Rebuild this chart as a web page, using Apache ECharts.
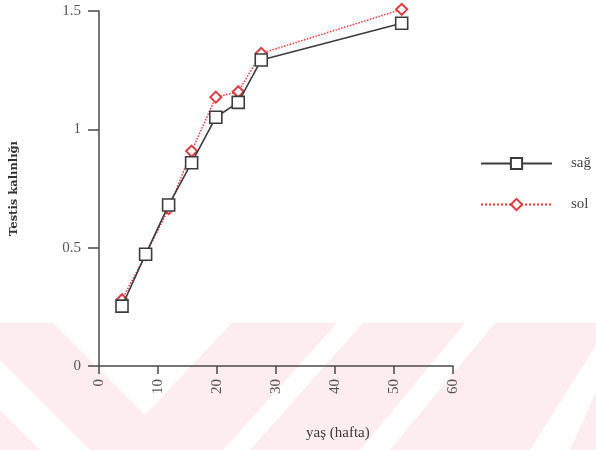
<!DOCTYPE html>
<html>
<head>
<meta charset="utf-8">
<script src="https://cdn.jsdelivr.net/npm/echarts@6/dist/echarts.min.js"></script>
<style>
html,body{margin:0;padding:0;background:#fff;}
#chart{width:596px;height:450px;}
</style>
</head>
<body>
<div id="chart"></div>
<script>
// Data
var ages = [3.9, 7.9, 11.8, 15.7, 19.8, 23.6, 27.5, 51.3];
var sagValues = [0.253, 0.472, 0.68, 0.859, 1.051, 1.114, 1.293, 1.448];
var solValues = [0.28, 0.47, 0.665, 0.908, 1.136, 1.159, 1.321, 1.507];
var seriesNames = ['sağ', 'sol'];
var xTicks = [0, 10, 20, 30, 40, 50, 60];
var yTicks = [0, 0.5, 1, 1.5];
var xAxisTitle = 'yaş (hafta)';
var yAxisTitle = 'Testis kalınlığı';

function pairs(xs, ys) { return xs.map(function (x, i) { return [x, ys[i]]; }); }

var serif = '"Liberation Serif", "DejaVu Serif", serif';
var axisColor = '#4a4a4a';
var pink = '#fdedf0';

var chart = echarts.init(document.getElementById('chart'));
chart.setOption({
  backgroundColor: '#ffffff',
  animation: false,
  graphic: [
    { type: 'rect', silent: true, z: -10, shape: { x: 0, y: 323, width: 596, height: 127 }, style: { fill: pink } },
    { type: 'polygon', silent: true, z: -9, shape: { points: [[53,323],[232,323],[145,415]] }, style: { fill: '#fff' } },
    { type: 'polygon', silent: true, z: -9, shape: { points: [[0,360],[90,450],[40,450],[0,410]] }, style: { fill: '#fff' } },
    { type: 'polygon', silent: true, z: -9, shape: { points: [[337,323],[363,323],[250,450],[223,450]] }, style: { fill: '#fff' } },
    { type: 'polygon', silent: true, z: -9, shape: { points: [[465,323],[495,323],[390,450],[360,450]] }, style: { fill: '#fff' } },
    { type: 'polygon', silent: true, z: -9, shape: { points: [[596,345],[596,392],[570,450],[530,450]] }, style: { fill: '#fff' } },
    { type: 'text', left: 306, top: 426, style: { text: xAxisTitle, font: '15px ' + serif, fill: '#3a3a3a' } }
  ],
  grid: { left: 97, top: 11, width: 356, height: 355, containLabel: false },
  legend: {
    orient: 'vertical',
    left: 480,
    top: 156,
    padding: 0,
    itemWidth: 71,
    itemHeight: 14,
    itemGap: 26,
    textStyle: { fontFamily: serif, fontSize: 15, color: '#444', padding: [0, 0, 0, 14] },
    data: seriesNames
  },
  xAxis: {
    type: 'value',
    min: xTicks[0],
    max: xTicks[xTicks.length - 1],
    interval: 10,
    splitLine: { show: false },
    axisLine: { show: true, lineStyle: { color: axisColor, width: 1.5 } },
    axisTick: { show: true, inside: false, length: 8, lineStyle: { color: axisColor, width: 1.5 } },
    axisLabel: { rotate: 90, margin: 13, fontFamily: serif, fontSize: 15, color: '#555' }
  },
  yAxis: {
    type: 'value',
    min: yTicks[0],
    max: yTicks[yTicks.length - 1],
    interval: 0.5,
    splitLine: { show: false },
    axisLine: { show: true, lineStyle: { color: axisColor, width: 1.5 } },
    axisTick: { show: true, inside: false, length: 11, lineStyle: { color: axisColor, width: 1.5 } },
    axisLabel: { margin: 18, fontFamily: serif, fontSize: 15, color: '#555' },
    name: yAxisTitle,
    nameLocation: 'middle',
    nameGap: 79,
    nameTextStyle: { fontFamily: '"DejaVu Serif", serif', fontWeight: 'bold', fontSize: 11.5, color: '#333' }
  },
  series: [
    {
      name: seriesNames[0],
      type: 'line',
      data: pairs(ages, sagValues),
      symbol: 'rect',
      symbolSize: 12,
      clip: false,
      z: 3,
      lineStyle: { color: '#3c3c3c', width: 1.6, type: 'solid' },
      itemStyle: { color: '#ffffff', borderColor: '#3c3c3c', borderWidth: 1.6 }
    },
    {
      name: seriesNames[1],
      type: 'line',
      data: pairs(ages, solValues),
      symbol: 'diamond',
      symbolSize: 11,
      clip: false,
      z: 2,
      lineStyle: { color: '#e0393f', width: 1.5, type: 'dotted' },
      itemStyle: { color: '#ffffff', borderColor: '#e0393f', borderWidth: 2 }
    }
  ]
});
</script>
</body>
</html>
